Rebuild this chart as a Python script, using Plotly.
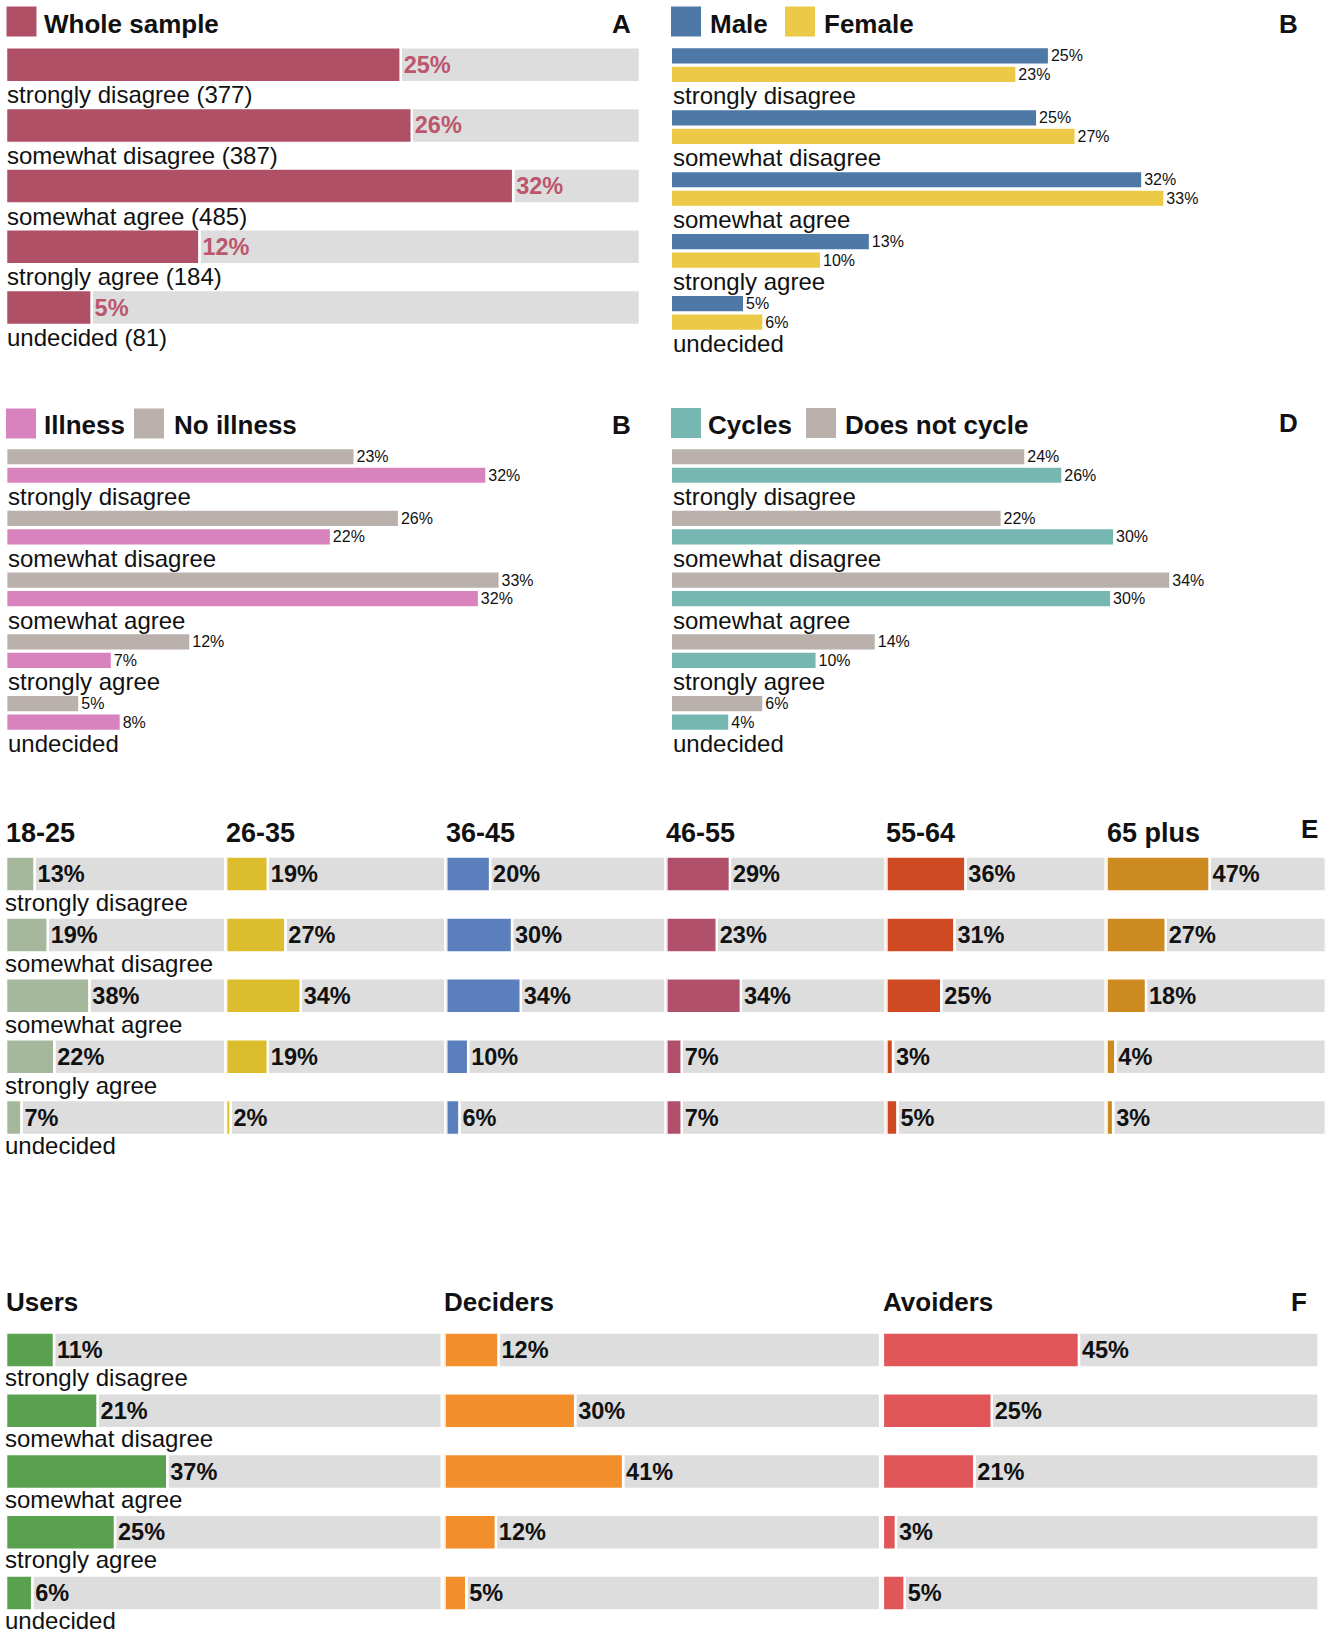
import plotly.graph_objects as go

RESPONSES = ["strongly disagree", "somewhat disagree", "somewhat agree", "strongly agree", "undecided"]

# A - whole sample
WHOLE_COUNTS = [377, 387, 485, 184, 81]
WHOLE_PCT = [24.9, 25.6, 32.0, 12.2, 5.4]

# B - gender
MALE_PCT = [25.4, 24.6, 31.7, 13.3, 4.8]
FEMALE_PCT = [23.2, 27.2, 33.2, 10.0, 6.1]

# C - illness
ILLNESS_PCT = [32.3, 21.8, 31.8, 7.0, 7.6]
NO_ILLNESS_PCT = [23.4, 26.4, 33.2, 12.3, 4.8]

# D - cycling
CYCLES_PCT = [26.3, 29.8, 29.6, 9.7, 3.8]
NO_CYCLE_PCT = [23.8, 22.2, 33.6, 13.7, 6.1]

# E - age groups
AGE_GROUPS = ["18-25", "26-35", "36-45", "46-55", "55-64", "65 plus"]
AGE_18_25 = [13, 19, 38, 22, 7]
AGE_26_35 = [19, 27, 34, 19, 2]
AGE_36_45 = [20, 30, 34, 10, 6]
AGE_46_55 = [29, 23, 34, 7, 7]
AGE_55_64 = [36, 31, 25, 3, 5]
AGE_65_PLUS = [47, 27, 18, 4, 3]

# F - user types
USER_TYPES = ["Users", "Deciders", "Avoiders"]
USERS_PCT = [11, 21, 37, 25, 6]
DECIDERS_PCT = [12.4, 30, 41, 11.8, 5]
AVOIDERS_PCT = [45, 25, 21, 3, 5]

W, H = 1333, 1632
FONT = "Liberation Sans, Arial, Helvetica, sans-serif"
TRACK_GREY = "#dddddd"
INK = "#111111"

fig = go.Figure()
axes = {}
n_axes = 0


def add_axes(x0, x1, xmax, c0, pitch):
    """Axis pair whose category slots have the given pixel pitch; c0 = centre of first bar."""
    global n_axes
    n_axes += 1
    sfx = "" if n_axes == 1 else str(n_axes)
    axes["xaxis" + sfx] = dict(domain=[x0 / W, x1 / W], range=[0, xmax], visible=False,
                               fixedrange=True, anchor="y" + sfx)
    axes["yaxis" + sfx] = dict(domain=[1 - (c0 + 4.5 * pitch) / H, 1 - (c0 - 0.5 * pitch) / H],
                               range=[4.5, -0.5], type="category", categoryorder="array",
                               categoryarray=RESPONSES, visible=False, fixedrange=True,
                               anchor="x" + sfx)
    return "x" + sfx, "y" + sfx, pitch


def track_bars(ax, values, color, track, textcolor):
    xa, ya, pitch = ax
    width = 35 / pitch
    line = dict(color="white", width=2.5)
    fig.add_trace(go.Bar(orientation="h", y=RESPONSES, x=[track - v for v in values], base=values,
                         width=width, marker=dict(color=TRACK_GREY, line=line),
                         xaxis=xa, yaxis=ya, hoverinfo="skip"))
    fig.add_trace(go.Bar(orientation="h", y=RESPONSES, x=values, width=width,
                         marker=dict(color=color, line=line),
                         texttemplate="%{x:.0f}%", textposition="outside", textangle=0,
                         constraintext="none", cliponaxis=False,
                         textfont=dict(family=FONT, size=23.5, color=textcolor, weight="bold"),
                         xaxis=xa, yaxis=ya, hoverinfo="skip"))


def pair_bars(ax, top_vals, top_color, bottom_vals, bottom_color):
    xa, ya, pitch = ax
    h, gap = 15.2, 3.3
    for vals, color, off in ((top_vals, top_color, -(h + gap / 2)), (bottom_vals, bottom_color, gap / 2)):
        fig.add_trace(go.Bar(orientation="h", y=RESPONSES, x=vals, width=h / pitch, offset=off / pitch,
                             marker=dict(color=color, line=dict(width=0)),
                             texttemplate="%{x:.0f}%", textposition="outside", textangle=0,
                             constraintext="none", cliponaxis=False,
                             textfont=dict(family=FONT, size=16, color=INK),
                             xaxis=xa, yaxis=ya, hoverinfo="skip"))


def response_labels(ax, texts, yshift, xshift=-1):
    xa, ya, _ = ax
    for r, t in zip(RESPONSES, texts):
        fig.add_annotation(x=0, y=r, xref=xa, yref=ya, text=t, showarrow=False,
                           xanchor="left", yanchor="middle", xshift=xshift, yshift=yshift,
                           font=dict(family=FONT, size=24, color=INK))


def heading(x, y, text, anchor="left", size=26):
    fig.add_annotation(x=x / W, y=1 - y / H, xref="paper", yref="paper", text=text,
                       showarrow=False, xanchor=anchor, yanchor="middle",
                       font=dict(family=FONT, size=size, color=INK, weight="bold"))


def swatch(x0, y0, color, size=30):
    fig.add_shape(type="rect", xref="paper", yref="paper", x0=x0 / W, x1=(x0 + size) / W,
                  y0=1 - (y0 + size) / H, y1=1 - y0 / H, fillcolor=color, line=dict(width=0))


# ---- A: whole sample
A_COLOR = "#af5066"
ax_a = add_axes(6, 640, 40, 64.7, 60.7)
track_bars(ax_a, WHOLE_PCT, A_COLOR, 40, "#bb566d")
response_labels(ax_a, [f"{r} ({n})" for r, n in zip(RESPONSES, WHOLE_COUNTS)], -30)
swatch(6.5, 6.5, A_COLOR)
heading(42, 24, "Whole sample")
heading(633, 24, "A", anchor="right")

# ---- B: gender
MALE_COLOR, FEMALE_COLOR = "#4e79a7", "#edc948"
ax_b = add_axes(672, 1325, (1325 - 672) / 14.8, 65.2, 61.9)
pair_bars(ax_b, MALE_PCT, MALE_COLOR, FEMALE_PCT, FEMALE_COLOR)
response_labels(ax_b, RESPONSES, -30.5)
swatch(671, 6.5, MALE_COLOR)
heading(708, 24, "Male")
swatch(785, 6.5, FEMALE_COLOR)
heading(822, 24, "Female")
heading(1300, 24, "B", anchor="right")

# ---- C: illness
ILL_COLOR, NO_ILL_COLOR = "#d882be", "#bab0ac"
ax_c = add_axes(7.2, 660, (660 - 7.2) / 14.8, 466, 61.7)
pair_bars(ax_c, NO_ILLNESS_PCT, NO_ILL_COLOR, ILLNESS_PCT, ILL_COLOR)
response_labels(ax_c, RESPONSES, -30.7)
swatch(6, 408.5, ILL_COLOR)
heading(42, 425, "Illness")
swatch(134, 408.5, NO_ILL_COLOR)
heading(172, 425, "No illness")
heading(633, 425, "B", anchor="right")

# ---- D: cycling
CYC_COLOR, NO_CYC_COLOR = "#76b7b2", "#bab0ac"
ax_d = add_axes(672, 1325, (1325 - 672) / 14.8, 466, 61.7)
pair_bars(ax_d, NO_CYCLE_PCT, NO_CYC_COLOR, CYCLES_PCT, CYC_COLOR)
response_labels(ax_d, RESPONSES, -30.7)
swatch(671, 408, CYC_COLOR)
heading(706, 425, "Cycles")
swatch(806, 408, NO_CYC_COLOR)
heading(843, 425, "Does not cycle")
heading(1300, 423, "D", anchor="right")

# ---- E: age groups
AGE_VALUES = [AGE_18_25, AGE_26_35, AGE_36_45, AGE_46_55, AGE_55_64, AGE_65_PLUS]
AGE_COLORS = ["#a5b89c", "#dbbd2d", "#5b7fbd", "#b0506a", "#cf4a22", "#cd8a20"]
for i, (group, vals, col) in enumerate(zip(AGE_GROUPS, AGE_VALUES, AGE_COLORS)):
    x0 = 6.05 + 220.1 * i
    ax = add_axes(x0, x0 + 219.2, 100, 874, 60.9)
    track_bars(ax, vals, col, 100, INK)
    if i == 0:
        response_labels(ax, RESPONSES, -28.3, xshift=-3)
    heading(x0 - 2, 833, group, size=27)
heading(1320, 829, "E", anchor="right")

# ---- F: user types
USER_VALUES = [USERS_PCT, DECIDERS_PCT, AVOIDERS_PCT]
USER_COLORS = ["#59a14f", "#f28e2b", "#e15759"]
for i, (group, vals, col) in enumerate(zip(USER_TYPES, USER_VALUES, USER_COLORS)):
    x0 = 6.05 + 438.4 * i
    ax = add_axes(x0, x0 + 435.7, 100, 1350, 60.75)
    track_bars(ax, vals, col, 100, INK)
    if i == 0:
        response_labels(ax, RESPONSES, -27.5, xshift=-3)
    heading(x0 - 2, 1302, group)
heading(1309, 1302, "F", anchor="right")

fig.update_layout(
    width=W, height=H, margin=dict(l=0, r=0, t=0, b=0),
    paper_bgcolor="white", plot_bgcolor="white",
    barmode="overlay", showlegend=False, hovermode=False,
    font=dict(family=FONT, color=INK),
    **axes,
)

fig.write_html("out.html", config={"displayModeBar": False},
               post_script="document.body.style.margin='0';")
